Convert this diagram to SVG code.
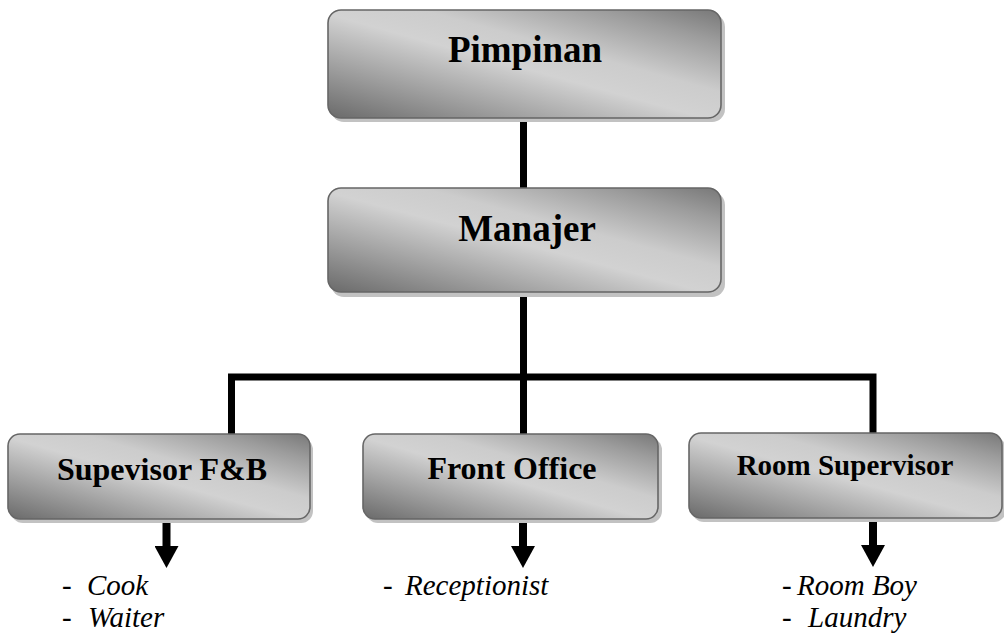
<svg xmlns="http://www.w3.org/2000/svg" width="1004" height="634" viewBox="0 0 1004 634">
  <defs>
    <linearGradient id="boxGrad" x1="0" y1="1" x2="1" y2="0">
      <stop offset="0" stop-color="#6a6a6a"/>
      <stop offset="0.22" stop-color="#9a9a9a"/>
      <stop offset="0.48" stop-color="#d2d2d2"/>
      <stop offset="0.62" stop-color="#cccccc"/>
      <stop offset="0.85" stop-color="#9c9c9c"/>
      <stop offset="1" stop-color="#787878"/>
    </linearGradient>
    <marker id="arrow" viewBox="0 -12 22 24" refX="0" refY="0" markerWidth="22" markerHeight="24" markerUnits="userSpaceOnUse" orient="auto">
      <path d="M0,-12 L22,0 L0,12 z" fill="#000"/>
    </marker>
  </defs>
  <style>
    .shadow { fill: #c2c2c2; }
    .box { fill: url(#boxGrad); stroke: #666666; stroke-width: 1.6; }
    text { font-family: 'Liberation Serif', 'DejaVu Serif', serif; fill: #000; }
    .label { font-weight: bold; text-anchor: middle; }
    .item { font-style: italic; font-size: 29px; }
    .conn { stroke: #000; stroke-width: 7; fill: none; stroke-linecap: butt; }
    .arr { stroke: #000; stroke-width: 8; fill: none; marker-end: url(#arrow); }
  </style>
  <rect width="1004" height="634" fill="#fff"/>

  <g id="connectors">
    <line class="conn" x1="523.5" y1="119" x2="523.5" y2="189"/>
    <line class="conn" x1="523.5" y1="292" x2="523.5" y2="434"/>
    <polyline class="conn" points="231.5,434 231.5,377 873,377 873,434"/>
    <line class="arr" x1="166.5" y1="519" x2="166.5" y2="546"/>
    <line class="arr" x1="523" y1="519" x2="523" y2="546"/>
    <line class="arr" x1="873" y1="518" x2="873" y2="545"/>
  </g>

  <g id="pimpinan">
    <rect class="shadow" x="331" y="14" width="394" height="108" rx="13"/>
    <rect class="box" x="328" y="10" width="393" height="108" rx="13"/>
    <text class="label" x="525" y="62" font-size="37">Pimpinan</text>
  </g>

  <g id="manajer">
    <rect class="shadow" x="331" y="192" width="394" height="105" rx="13"/>
    <rect class="box" x="328" y="188" width="393" height="104" rx="13"/>
    <text class="label" x="527" y="241" font-size="37">Manajer</text>
  </g>

  <g id="supervisor-fb">
    <rect class="shadow" x="11" y="438" width="302" height="85" rx="12"/>
    <rect class="box" x="8" y="434" width="302" height="85" rx="12"/>
    <text class="label" x="162" y="480" font-size="32">Supevisor F&amp;B</text>
  </g>

  <g id="front-office">
    <rect class="shadow" x="366" y="438" width="296" height="85" rx="12"/>
    <rect class="box" x="363" y="434" width="295" height="85" rx="12"/>
    <text class="label" x="512" y="479" font-size="32">Front Office</text>
  </g>

  <g id="room-supervisor">
    <rect class="shadow" x="692" y="437" width="314" height="85" rx="12"/>
    <rect class="box" x="689" y="433" width="313" height="85" rx="12"/>
    <text class="label" x="845" y="475" font-size="29">Room Supervisor</text>
  </g>

  <g id="items-fb">
    <text class="item" y="595"><tspan x="62">-</tspan><tspan x="87">Cook</tspan></text>
    <text class="item" y="627"><tspan x="62">-</tspan><tspan x="88">Waiter</tspan></text>
  </g>
  <g id="items-fo">
    <text class="item" y="595"><tspan x="383">-</tspan><tspan x="405">Receptionist</tspan></text>
  </g>
  <g id="items-room">
    <text class="item" y="595"><tspan x="782">-</tspan><tspan x="797">Room Boy</tspan></text>
    <text class="item" y="627"><tspan x="782">-</tspan><tspan x="808">Laundry</tspan></text>
  </g>
</svg>
